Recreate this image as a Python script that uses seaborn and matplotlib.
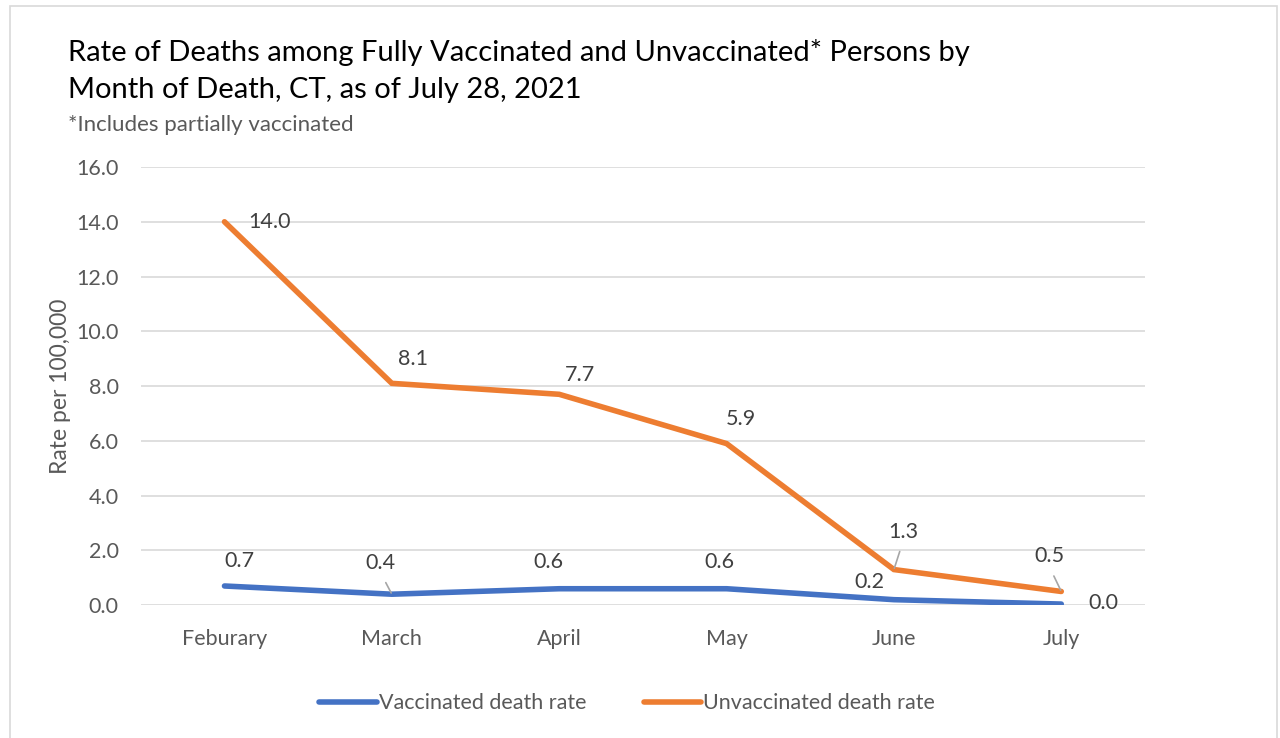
import seaborn as sns
import pandas as pd
import matplotlib.pyplot as plt
from matplotlib.patches import Rectangle

months = ["Feburary", "March", "April", "May", "June", "July"]
vaccinated = [0.7, 0.4, 0.6, 0.6, 0.2, 0.04]
unvaccinated = [14.0, 8.1, 7.7, 5.9, 1.3, 0.5]
series_names = ["Vaccinated death rate", "Unvaccinated death rate"]
y_ticks = [0, 2, 4, 6, 8, 10, 12, 14, 16]

# label offsets in pixels (dx, dy) and whether a leader line is drawn
vacc_offsets = [(15, 25), (-11, 31), (-11, 27), (-7, 27), (-25, 18), (42, 1)]
vacc_leader = [False, True, False, False, False, False]
unvacc_offsets = [(45, 0), (21, 24), (21, 19), (14, 25), (9, 38), (-12, 35)]
unvacc_leader = [False, False, False, False, True, True]

df = pd.DataFrame({
    "month": months * 2,
    "rate": vaccinated + unvaccinated,
    "series": [series_names[0]] * len(months) + [series_names[1]] * len(months),
})

sns.set_theme(style="white")
plt.rcParams["font.family"] = ["Lato", "DejaVu Sans"]

FS = 15.5

fig = plt.figure(figsize=(12.8, 7.38), dpi=100)
ax = fig.add_axes([0.110, 0.180, 0.7845, 0.5937])

palette = {series_names[0]: "#4472C4", series_names[1]: "#ED7D31"}
sns.lineplot(data=df, x="month", y="rate", hue="series", palette=palette,
             linewidth=4, sort=False, ax=ax, legend=True)
for ln in ax.lines:
    ln.set_solid_capstyle("round")
    ln.set_solid_joinstyle("miter")

ax.set_xlim(-0.5, len(months) - 0.5)
ax.set_ylim(0, 16)
ax.set_yticks(y_ticks)
ax.set_yticklabels([f"{v:.1f}" for v in y_ticks])
ax.grid(axis="y", color="#D9D9D9", linewidth=1.2)
ax.set_axisbelow(True)
for s in ax.spines.values():
    s.set_visible(False)
ax.tick_params(axis="both", length=0, labelsize=FS, colors="#595959")
ax.tick_params(axis="x", pad=17)
ax.tick_params(axis="y", pad=16)
ax.set_xlabel("")
ax.set_ylabel("Rate per 100,000", fontsize=16.5, color="#595959", labelpad=4)


def label_points(values, offsets, leaders):
    for i, (v, (dx, dy), lead) in enumerate(zip(values, offsets, leaders)):
        kw = dict(textcoords="offset pixels", xytext=(dx, dy), ha="center",
                  va="center", fontsize=FS, color="#404040")
        if lead:
            kw["arrowprops"] = dict(arrowstyle="-", color="#A6A6A6", lw=1.2,
                                    shrinkA=5, shrinkB=1, relpos=(0.5, 0))
        ax.annotate(f"{v:.1f}", xy=(i, v), **kw)


label_points(vaccinated, vacc_offsets, vacc_leader)
label_points(unvaccinated, unvacc_offsets, unvacc_leader)

handles, labels = ax.get_legend_handles_labels()
ax.legend(handles, labels, loc="center", bbox_to_anchor=(0.4846, -0.224),
          ncol=2, frameon=False, fontsize=FS, handlelength=2.65,
          handletextpad=0.1, columnspacing=2.7, labelcolor="#595959")

fig.text(68 / 1280, 1 - 52 / 738, "Rate of Deaths among Fully Vaccinated and Unvaccinated* Persons by",
         fontsize=21, color="black", va="center")
fig.text(68 / 1280, 1 - 90 / 738, "Month of Death, CT, as of July 28, 2021",
         fontsize=21, color="black", va="center")
fig.text(68 / 1280, 1 - 125 / 738, "*Includes partially vaccinated",
         fontsize=16, color="#595959", va="center")

fig.patches.append(Rectangle((10 / 1280, -0.05), 1267 / 1280, 1.05 - 6 / 738,
                             transform=fig.transFigure, fill=False,
                             edgecolor="#D9D9D9", linewidth=1.2))

fig.savefig("out.png", dpi=100, facecolor="white")
